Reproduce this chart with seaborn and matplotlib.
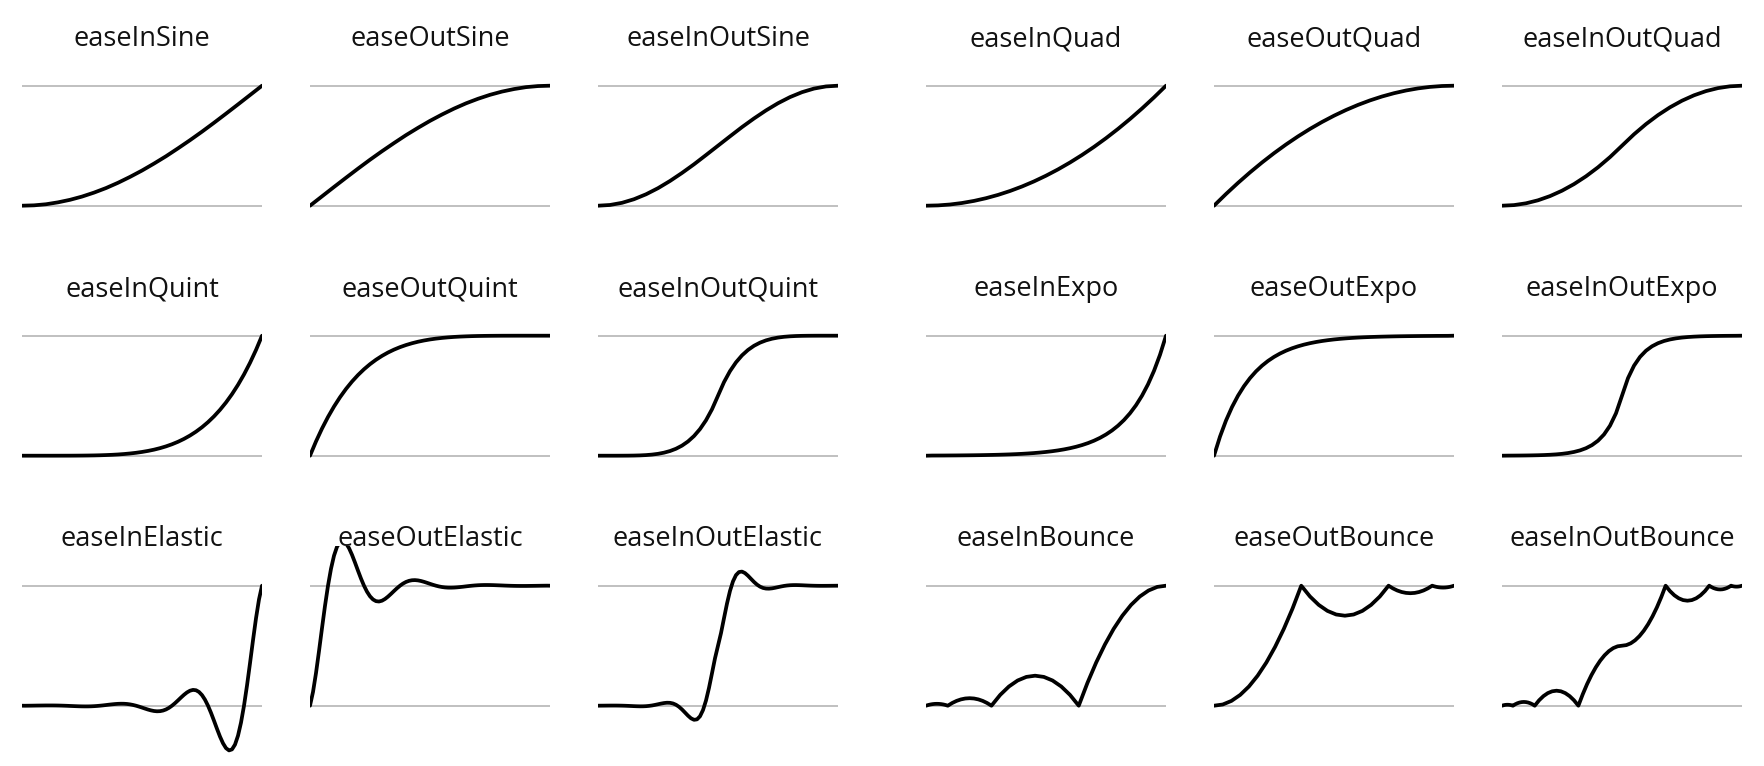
"""
Easing function reference sheet: 18 small panels, one curve each.
"""

import matplotlib
matplotlib.use("Agg")
import matplotlib.pyplot as plt
import seaborn as sns

# Sample positions (progress 0..1)
T21 = [0.0, 0.05, 0.1, 0.15, 0.2, 0.25, 0.3, 0.35, 0.4, 0.45, 0.5,
       0.55, 0.6, 0.65, 0.7, 0.75, 0.8, 0.85, 0.9, 0.95, 1.0]
T41 = [0.0, 0.025, 0.05, 0.075, 0.1, 0.125, 0.15, 0.175, 0.2, 0.225,
       0.25, 0.275, 0.3, 0.325, 0.35, 0.375, 0.4, 0.425, 0.45, 0.475,
       0.5, 0.525, 0.55, 0.575, 0.6, 0.625, 0.65, 0.675, 0.7, 0.725,
       0.75, 0.775, 0.8, 0.825, 0.85, 0.875, 0.9, 0.925, 0.95, 0.975, 1.0]
T81 = [0.0, 0.0125, 0.025, 0.0375, 0.05, 0.0625, 0.075, 0.0875, 0.1, 0.1125,
       0.125, 0.1375, 0.15, 0.1625, 0.175, 0.1875, 0.2, 0.2125, 0.225, 0.2375,
       0.25, 0.2625, 0.275, 0.2875, 0.3, 0.3125, 0.325, 0.3375, 0.35, 0.3625,
       0.375, 0.3875, 0.4, 0.4125, 0.425, 0.4375, 0.45, 0.4625, 0.475, 0.4875,
       0.5, 0.5125, 0.525, 0.5375, 0.55, 0.5625, 0.575, 0.5875, 0.6, 0.6125,
       0.625, 0.6375, 0.65, 0.6625, 0.675, 0.6875, 0.7, 0.7125, 0.725, 0.7375,
       0.75, 0.7625, 0.775, 0.7875, 0.8, 0.8125, 0.825, 0.8375, 0.85, 0.8625,
       0.875, 0.8875, 0.9, 0.9125, 0.925, 0.9375, 0.95, 0.9625, 0.975, 0.9875,
       1.0]

# Row 1 curves (on T21)
EASE_IN_SINE = [0.0, 0.003, 0.012, 0.028, 0.049, 0.076, 0.109, 0.147, 0.191, 0.240, 0.293,
                0.351, 0.412, 0.478, 0.546, 0.617, 0.691, 0.767, 0.844, 0.922, 1.0]
EASE_OUT_SINE = [0.0, 0.078, 0.156, 0.233, 0.309, 0.383, 0.454, 0.522, 0.588, 0.649, 0.707,
                 0.760, 0.809, 0.853, 0.891, 0.924, 0.951, 0.972, 0.988, 0.997, 1.0]
EASE_IN_OUT_SINE = [0.0, 0.006, 0.024, 0.054, 0.095, 0.146, 0.206, 0.273, 0.345, 0.422, 0.5,
                    0.578, 0.655, 0.727, 0.794, 0.854, 0.905, 0.946, 0.976, 0.994, 1.0]
EASE_IN_QUAD = [0.0, 0.0025, 0.01, 0.0225, 0.04, 0.0625, 0.09, 0.1225, 0.16, 0.2025, 0.25,
                0.3025, 0.36, 0.4225, 0.49, 0.5625, 0.64, 0.7225, 0.81, 0.9025, 1.0]
EASE_OUT_QUAD = [0.0, 0.0975, 0.19, 0.2775, 0.36, 0.4375, 0.51, 0.5775, 0.64, 0.6975, 0.75,
                 0.7975, 0.84, 0.8775, 0.91, 0.9375, 0.96, 0.9775, 0.99, 0.9975, 1.0]
EASE_IN_OUT_QUAD = [0.0, 0.005, 0.02, 0.045, 0.08, 0.125, 0.18, 0.245, 0.32, 0.405, 0.5,
                    0.595, 0.68, 0.755, 0.82, 0.875, 0.92, 0.955, 0.98, 0.995, 1.0]

# Row 2 curves (on T41)
EASE_IN_QUINT = [0.0, 0.0, 0.0, 0.0, 0.0, 0.0, 0.0001, 0.0002, 0.0003, 0.0006,
                 0.001, 0.0016, 0.0024, 0.0036, 0.0053, 0.0074, 0.0102, 0.0139, 0.0185, 0.0242,
                 0.0313, 0.0399, 0.0503, 0.0629, 0.0778, 0.0954, 0.116, 0.1401, 0.1681, 0.2003,
                 0.2373, 0.2796, 0.3277, 0.3822, 0.4437, 0.5129, 0.5905, 0.6772, 0.7738, 0.8811, 1.0]
EASE_OUT_QUINT = [0.0, 0.1189, 0.2262, 0.3228, 0.4095, 0.4871, 0.5563, 0.6178, 0.6723, 0.7204,
                  0.7627, 0.7997, 0.8319, 0.8599, 0.884, 0.9046, 0.9222, 0.9371, 0.9497, 0.9601,
                  0.9688, 0.9758, 0.9815, 0.9861, 0.9898, 0.9926, 0.9947, 0.9964, 0.9976, 0.9984,
                  0.999, 0.9994, 0.9997, 0.9998, 0.9999, 1.0, 1.0, 1.0, 1.0, 1.0, 1.0]
EASE_IN_OUT_QUINT = [0.0, 0.0, 0.0, 0.0, 0.0002, 0.0005, 0.0012, 0.0026, 0.0051, 0.0092,
                     0.0156, 0.0252, 0.0389, 0.058, 0.084, 0.1187, 0.1638, 0.2219, 0.2952, 0.3869,
                     0.5, 0.6131, 0.7048, 0.7781, 0.8362, 0.8813, 0.916, 0.942, 0.9611, 0.9748,
                     0.9844, 0.9908, 0.9949, 0.9974, 0.9988, 0.9995, 0.9998, 1.0, 1.0, 1.0, 1.0]
EASE_IN_EXPO = [0.0, 0.0012, 0.0014, 0.0016, 0.002, 0.0023, 0.0028, 0.0033, 0.0039, 0.0046,
                0.0055, 0.0066, 0.0078, 0.0093, 0.011, 0.0131, 0.0156, 0.0186, 0.0221, 0.0263,
                0.0313, 0.0372, 0.0442, 0.0526, 0.0625, 0.0743, 0.0884, 0.1051, 0.125, 0.1487,
                0.1768, 0.2102, 0.25, 0.2973, 0.3536, 0.4204, 0.5, 0.5946, 0.7071, 0.8409, 1.0]
EASE_OUT_EXPO = [0.0, 0.1591, 0.2929, 0.4054, 0.5, 0.5796, 0.6464, 0.7027, 0.75, 0.7898,
                 0.8232, 0.8513, 0.875, 0.8949, 0.9116, 0.9257, 0.9375, 0.9474, 0.9558, 0.9628,
                 0.9688, 0.9737, 0.9779, 0.9814, 0.9844, 0.9869, 0.989, 0.9907, 0.9922, 0.9934,
                 0.9945, 0.9954, 0.9961, 0.9967, 0.9972, 0.9977, 0.998, 0.9984, 0.9986, 0.9988, 1.0]
EASE_IN_OUT_EXPO = [0.0, 0.0007, 0.001, 0.0014, 0.002, 0.0028, 0.0039, 0.0055, 0.0078, 0.011,
                    0.0156, 0.0221, 0.0313, 0.0442, 0.0625, 0.0884, 0.125, 0.1768, 0.25, 0.3536,
                    0.5, 0.6464, 0.75, 0.8232, 0.875, 0.9116, 0.9375, 0.9558, 0.9688, 0.9779,
                    0.9844, 0.989, 0.9922, 0.9945, 0.9961, 0.9972, 0.998, 0.9986, 0.999, 0.9993, 1.0]

# Row 3 curves (elastic on T81)
EASE_IN_ELASTIC = [0.0, -0.0003, 0.0, 0.0003, 0.0007, 0.0011, 0.0014, 0.0017, 0.002, 0.002,
                   0.002, 0.0018, 0.0014, 0.0008, 0.0, -0.0009, -0.002, -0.003, -0.004, -0.0049,
                   -0.0055, -0.0058, -0.0057, -0.0051, -0.0039, -0.0022, 0.0, 0.0026, 0.0055, 0.0086,
                   0.0113, 0.0138, 0.0156, 0.0164, 0.0161, 0.0144, 0.011, 0.0062, 0.0, -0.0074,
                   -0.0156, -0.0241, -0.0322, -0.0391, -0.0442, -0.0466, -0.0455, -0.0405, -0.0313, -0.0177,
                   0.0, 0.021, 0.0442, 0.0682, 0.091, 0.1107, 0.125, 0.1317, 0.1288, 0.1146,
                   0.0884, 0.0499, 0.0, -0.0593, -0.125, -0.1928, -0.2575, -0.3131, -0.3536, -0.3725,
                   -0.3641, -0.3242, -0.25, -0.1411, 0.0, 0.1678, 0.3536, 0.5453, 0.7282, 0.8857,
                   1.0]
EASE_OUT_ELASTIC = [0.0, 0.1143, 0.2718, 0.4547, 0.6464, 0.8322, 1.0, 1.1411, 1.25, 1.3242,
                    1.3641, 1.3725, 1.3536, 1.3131, 1.2575, 1.1928, 1.125, 1.0593, 1.0, 0.9501,
                    0.9116, 0.8854, 0.8712, 0.8683, 0.875, 0.8893, 0.909, 0.9318, 0.9558, 0.979,
                    1.0, 1.0177, 1.0313, 1.0405, 1.0455, 1.0466, 1.0442, 1.0391, 1.0322, 1.0241,
                    1.0156, 1.0074, 1.0, 0.9938, 0.989, 0.9856, 0.9839, 0.9836, 0.9844, 0.9862,
                    0.9887, 0.9914, 0.9945, 0.9974, 1.0, 1.0022, 1.0039, 1.0051, 1.0057, 1.0058,
                    1.0055, 1.0049, 1.004, 1.003, 1.002, 1.0009, 1.0, 0.9992, 0.9986, 0.9982,
                    0.998, 0.998, 0.998, 0.9983, 0.9986, 0.9989, 0.9993, 0.9997, 1.0, 1.0003,
                    1.0]
EASE_IN_OUT_ELASTIC = [0.0, 0.0003, 0.0005, 0.0008, 0.001, 0.0011, 0.0011, 0.0008, 0.0003, -0.0004,
                       -0.0014, -0.0025, -0.0037, -0.0046, -0.0052, -0.005, -0.0039, -0.0016, 0.0019, 0.0066,
                       0.012, 0.0175, 0.0221, 0.0247, 0.0239, 0.0186, 0.0077, -0.0091, -0.0313, -0.057,
                       -0.0831, -0.1051, -0.1175, -0.1139, -0.0884, -0.0365, 0.0434, 0.1487, 0.2708, 0.3951,
                       0.5, 0.6049, 0.7292, 0.8513, 0.9566, 1.0365, 1.0884, 1.1139, 1.1175, 1.1051,
                       1.0831, 1.057, 1.0313, 1.0091, 0.9923, 0.9814, 0.9761, 0.9753, 0.9779, 0.9825,
                       0.988, 0.9934, 0.9981, 1.0016, 1.0039, 1.005, 1.0052, 1.0046, 1.0037, 1.0025,
                       1.0014, 1.0004, 0.9997, 0.9992, 0.9989, 0.9989, 0.999, 0.9992, 0.9995, 0.9997,
                       1.0]

# Bounce curves carry their own sample positions so the cusps stay sharp
X_IN_BOUNCE = [0.0, 0.0091, 0.0182, 0.0273, 0.0364, 0.0455, 0.0545, 0.0636, 0.0727, 0.0818, 0.0909,
               0.1091, 0.1273, 0.1455, 0.1636, 0.1818, 0.2, 0.2182, 0.2364, 0.2545, 0.2727,
               0.3091, 0.3455, 0.3818, 0.4182, 0.4545, 0.4909, 0.5273, 0.5636, 0.6, 0.6364,
               0.6727, 0.7091, 0.7455, 0.7818, 0.8182, 0.8545, 0.8909, 0.9273, 0.9636, 1.0]
EASE_IN_BOUNCE = [0.0, 0.0056, 0.01, 0.0131, 0.015, 0.0156, 0.015, 0.0131, 0.01, 0.0056, 0.0,
                  0.0225, 0.04, 0.0525, 0.06, 0.0625, 0.06, 0.0525, 0.04, 0.0225, 0.0,
                  0.09, 0.16, 0.21, 0.24, 0.25, 0.24, 0.21, 0.16, 0.09, 0.0,
                  0.19, 0.36, 0.51, 0.64, 0.75, 0.84, 0.91, 0.96, 0.99, 1.0]
X_OUT_BOUNCE = [0.0, 0.0364, 0.0727, 0.1091, 0.1455, 0.1818, 0.2182, 0.2545, 0.2909, 0.3273, 0.3636,
                0.4, 0.4364, 0.4727, 0.5091, 0.5455, 0.5818, 0.6182, 0.6545, 0.6909, 0.7273,
                0.7455, 0.7636, 0.7818, 0.8, 0.8182, 0.8364, 0.8545, 0.8727, 0.8909, 0.9091,
                0.9182, 0.9273, 0.9364, 0.9455, 0.9545, 0.9636, 0.9727, 0.9818, 0.9909, 1.0]
EASE_OUT_BOUNCE = [0.0, 0.01, 0.04, 0.09, 0.16, 0.25, 0.36, 0.49, 0.64, 0.81, 1.0,
                   0.91, 0.84, 0.79, 0.76, 0.75, 0.76, 0.79, 0.84, 0.91, 1.0,
                   0.9775, 0.96, 0.9475, 0.94, 0.9375, 0.94, 0.9475, 0.96, 0.9775, 1.0,
                   0.9944, 0.99, 0.9869, 0.985, 0.9844, 0.985, 0.9869, 0.99, 0.9944, 1.0]
X_IN_OUT_BOUNCE = [0.0, 0.0045, 0.0091, 0.0136, 0.0182, 0.0227, 0.0273, 0.0318, 0.0364, 0.0409, 0.0455,
                   0.0545, 0.0636, 0.0727, 0.0818, 0.0909, 0.1, 0.1091, 0.1182, 0.1273, 0.1364,
                   0.1545, 0.1727, 0.1909, 0.2091, 0.2273, 0.2455, 0.2636, 0.2818, 0.3, 0.3182,
                   0.3364, 0.3545, 0.3727, 0.3909, 0.4091, 0.4273, 0.4455, 0.4636, 0.4818, 0.5,
                   0.5182, 0.5364, 0.5545, 0.5727, 0.5909, 0.6091, 0.6273, 0.6455, 0.6636, 0.6818,
                   0.7, 0.7182, 0.7364, 0.7545, 0.7727, 0.7909, 0.8091, 0.8273, 0.8455, 0.8636,
                   0.8727, 0.8818, 0.8909, 0.9, 0.9091, 0.9182, 0.9273, 0.9364, 0.9455, 0.9545,
                   0.9591, 0.9636, 0.9682, 0.9727, 0.9773, 0.9818, 0.9864, 0.9909, 0.9955, 1.0]
EASE_IN_OUT_BOUNCE = [0.0, 0.0028, 0.005, 0.0066, 0.0075, 0.0078, 0.0075, 0.0066, 0.005, 0.0028, 0.0,
                      0.0113, 0.02, 0.0263, 0.03, 0.0313, 0.03, 0.0263, 0.02, 0.0113, 0.0,
                      0.045, 0.08, 0.105, 0.12, 0.125, 0.12, 0.105, 0.08, 0.045, 0.0,
                      0.095, 0.18, 0.255, 0.32, 0.375, 0.42, 0.455, 0.48, 0.495, 0.5,
                      0.505, 0.52, 0.545, 0.58, 0.625, 0.68, 0.745, 0.82, 0.905, 1.0,
                      0.955, 0.92, 0.895, 0.88, 0.875, 0.88, 0.895, 0.92, 0.955, 1.0,
                      0.9888, 0.98, 0.9738, 0.97, 0.9688, 0.97, 0.9738, 0.98, 0.9888, 1.0,
                      0.9972, 0.995, 0.9934, 0.9925, 0.9922, 0.9925, 0.9934, 0.995, 0.9972, 1.0]

PANELS = [
    ("easeInSine", T21, EASE_IN_SINE),
    ("easeOutSine", T21, EASE_OUT_SINE),
    ("easeInOutSine", T21, EASE_IN_OUT_SINE),
    ("easeInQuad", T21, EASE_IN_QUAD),
    ("easeOutQuad", T21, EASE_OUT_QUAD),
    ("easeInOutQuad", T21, EASE_IN_OUT_QUAD),
    ("easeInQuint", T41, EASE_IN_QUINT),
    ("easeOutQuint", T41, EASE_OUT_QUINT),
    ("easeInOutQuint", T41, EASE_IN_OUT_QUINT),
    ("easeInExpo", T41, EASE_IN_EXPO),
    ("easeOutExpo", T41, EASE_OUT_EXPO),
    ("easeInOutExpo", T41, EASE_IN_OUT_EXPO),
    ("easeInElastic", T81, EASE_IN_ELASTIC),
    ("easeOutElastic", T81, EASE_OUT_ELASTIC),
    ("easeInOutElastic", T81, EASE_IN_OUT_ELASTIC),
    ("easeInBounce", X_IN_BOUNCE, EASE_IN_BOUNCE),
    ("easeOutBounce", X_OUT_BOUNCE, EASE_OUT_BOUNCE),
    ("easeInOutBounce", X_IN_OUT_BOUNCE, EASE_IN_OUT_BOUNCE),
]

# Layout (pixels)
FIG_W, FIG_H = 1764, 766
COL_LEFT = [22, 310, 598, 926, 1214, 1502]
PANEL_W = 240
ROW_TOP_LINE = [85.7, 335.7, 585.7]  # pixel row of the y=1 guide
UNIT = 120                            # pixels between y=0 and y=1
Y_LO, Y_HI = -0.5, 1.33

sns.set_theme(style="white")
plt.rcParams["font.family"] = ["Open Sans", "DejaVu Sans"]


def main():
    fig = plt.figure(figsize=(FIG_W / 100, FIG_H / 100), dpi=100)
    height = (Y_HI - Y_LO) * UNIT

    for i, (title, xs, ys) in enumerate(PANELS):
        r, c = divmod(i, 6)
        top = ROW_TOP_LINE[r] - (Y_HI - 1) * UNIT
        ax = fig.add_axes([COL_LEFT[c] / FIG_W, 1 - (top + height) / FIG_H,
                           PANEL_W / FIG_W, height / FIG_H])
        for level in (0, 1):
            ax.axhline(level, color="#bbbbbb", linewidth=1.3, zorder=1)
        sns.lineplot(x=xs, y=ys, ax=ax, color="black", linewidth=2.7,
                     estimator=None, sort=False, zorder=2, solid_joinstyle="round")
        ax.set_xlim(0, 1)
        ax.set_ylim(Y_LO, Y_HI)
        ax.set_axis_off()
        ax.set_title(title, fontsize=19.5, pad=0, y=1.0, color="#111111")

    fig.savefig("out.png", dpi=100)
    plt.close(fig)


if __name__ == "__main__":
    main()
